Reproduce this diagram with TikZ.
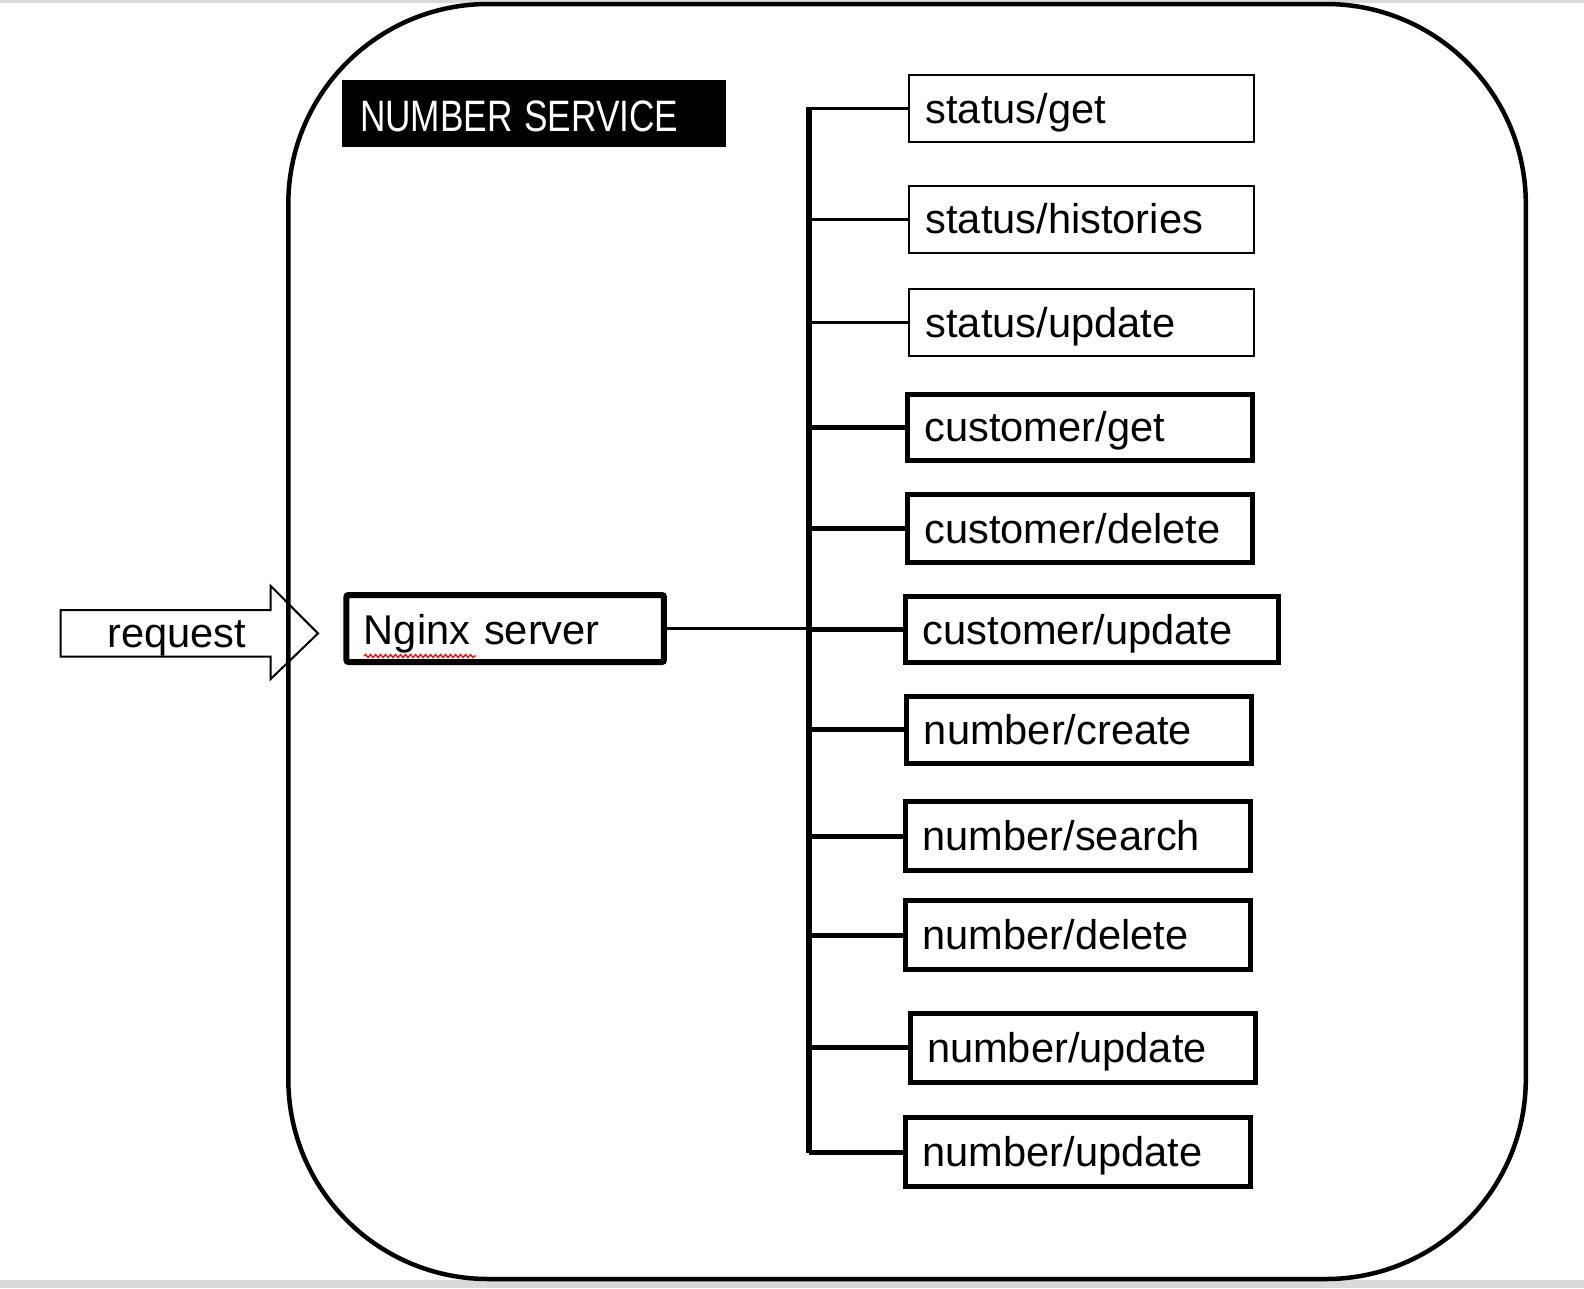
\documentclass[tikz,border=0pt]{standalone}
\usepackage{fontspec}
\setmainfont{Liberation Sans}
\usetikzlibrary{decorations.pathmorphing,calc}
\begin{document}
\begin{tikzpicture}[x=1pt,y=-1pt,
  lbl/.style={font=\fontsize{41.6}{48}\selectfont},
  ep/.style={draw=black, fill=white, inner xsep=17pt, inner ysep=0pt, align=left,
             text height=38pt, text depth=9pt, lbl, anchor=center},
  thinbox/.style={ep, line width=2pt, text width=311pt, minimum width=345pt},
  thickbox/.style={ep, line width=5pt, text width=311pt, minimum width=345pt},
  thinbr/.style={line width=3pt},
  thickbr/.style={line width=5pt},
  bandfill/.style={fill=black!15, draw=none},
]
\useasboundingbox (0,0) rectangle (1584,1288);
% page edge bands
\fill[bandfill] (0,0) rectangle (1584,3);
\fill[bandfill] (0,1280) rectangle (1584,1288);

% request arrow
\draw[line width=2pt, fill=white, line join=miter]
  (60.6,610) -- (270.7,610) -- (270.7,586) -- (318,633.4) -- (270.7,679)
  -- (270.7,656.6) -- (60.6,656.6) -- cycle;
\node[lbl, anchor=base, inner sep=0pt] (req) at (177,647) {request};

% outer service frame
\draw[line width=4.5pt, rounded corners=200pt] (288.3,4) rectangle (1525.8,1279);

% title
\node[fill=black, text=white, anchor=center, minimum width=384pt, minimum height=67.5pt,
      inner xsep=18.5pt, inner ysep=0pt, text width=347pt, align=left,
      text height=44pt, text depth=9.4pt, font=\fontsize{44}{50}\selectfont]
  (title) at (533.5,113.7) {\scalebox{0.8}[1]{NUMBER SERVICE}};

% nginx
\node[ep, line width=6pt, rounded corners=2pt, minimum width=317.5pt, minimum height=67pt,
      inner xsep=17.5pt, text width=282.5pt, text height=38pt, text depth=6pt]
  (ng) at (505.2,628.5) {Nginx server};
\draw[red, line width=1.2pt, decorate, decoration={snake, segment length=5pt, amplitude=1.6pt}]
  (364,656) -- (476,656);

% bus
\coordinate (bt) at (808.8,106.7);
\coordinate (bb) at (808.8,1153);
\draw[line width=5.5pt] (bt) -- (bb);

% endpoint boxes
\node[thinbox, minimum height=66.5pt] (sg) at (1081,108.7) {status/get};
\node[thinbox, minimum height=67pt] (sh) at (1081,219) {status/histories};
\node[thinbox, minimum height=67.5pt] (su) at (1081,322.7) {status/update};
\node[thickbox, minimum height=66pt] (cg) at (1080,427) {customer/get};
\node[thickbox, minimum height=68pt] (cd) at (1080,528.7) {customer/delete};
\node[thickbox, minimum height=66pt, minimum width=372.4pt, text width=338.4pt] (cu) at (1092,629.5) {customer/update};
\node[thickbox, minimum height=67pt] (nc) at (1079.4,729.8) {number/create};
\node[thickbox, minimum height=69pt] (ns) at (1078,836.3) {number/search};
\node[thickbox, minimum height=68.4pt] (nd) at (1078,935) {number/delete};
\node[thickbox, minimum height=69.3pt] (nu1) at (1082.5,1047.9) {number/update};
\node[thickbox, minimum height=69.2pt] (nu2) at (1078,1152) {number/update};

% branches
\draw[line width=2.5pt] (ng.east) -- (ng.east -| bt);
\foreach \b in {sg,sh,su}{\draw[thinbr] (\b.west) -- (\b.west -| bt);}
\foreach \b in {cg,cd,cu,nc,ns,nd,nu1,nu2}{\draw[thickbr] (\b.west) -- (\b.west -| bt);}
\end{tikzpicture}
\end{document}
